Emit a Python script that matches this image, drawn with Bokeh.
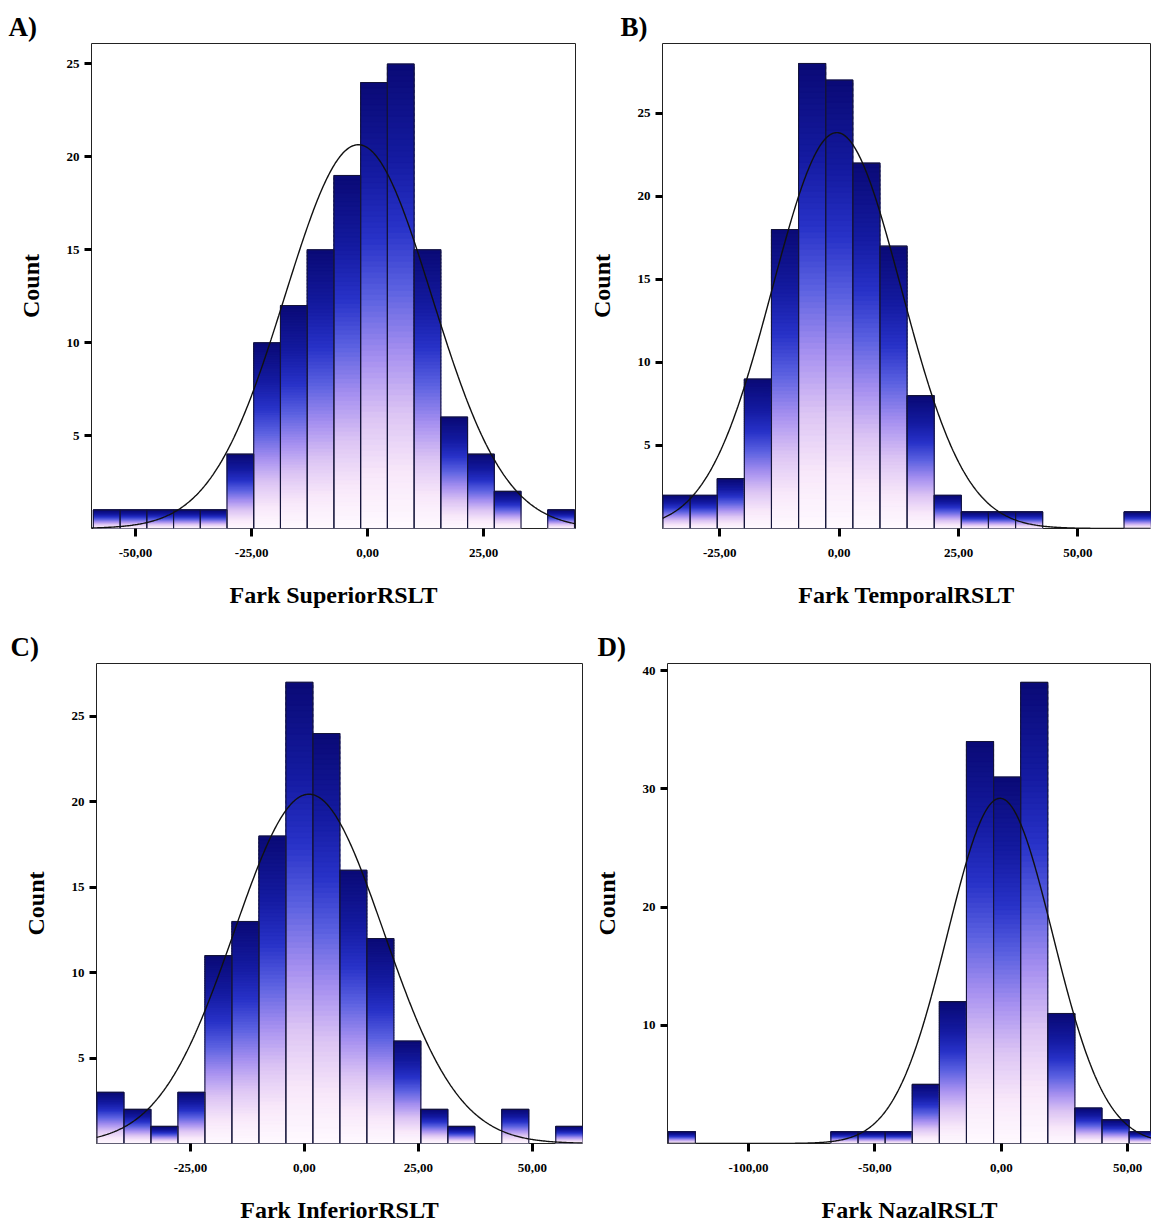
import numpy as np
from bokeh.plotting import figure
from bokeh.layouts import column, row
from bokeh.models import FixedTicker, CustomJSTickFormatter, Range1d
from bokeh.embed import file_html
from bokeh.resources import INLINE

# ---------------- data ----------------
# Panel A: Fark SuperiorRSLT
a_bin_start, a_bin_width = -59.1, 5.76
a_counts = [1, 1, 1, 1, 1, 4, 10, 12, 15, 19, 24, 25, 15, 6, 4, 2, 0, 1]
a_mean, a_sd = -2.0, 15.8
a_xticks = [-50, -25, 0, 25]
a_yticks = [5, 10, 15, 20, 25]

# Panel B: Fark TemporalRSLT
b_bin_start, b_bin_width = -36.9, 5.68
b_counts = [2, 2, 3, 9, 18, 28, 27, 22, 17, 8, 2, 1, 1, 1, 0, 0, 0, 1]
b_mean, b_sd = -0.5, 13.5
b_xticks = [-25, 0, 25, 50]
b_yticks = [5, 10, 15, 20, 25]

# Panel C: Fark InferiorRSLT
c_bin_start, c_bin_width = -45.5, 5.92
c_counts = [3, 2, 1, 3, 11, 13, 18, 27, 24, 16, 12, 6, 2, 1, 0, 2, 0, 1]
c_mean, c_sd = 1.0, 16.4
c_xticks = [-25, 0, 25, 50]
c_yticks = [5, 10, 15, 20, 25]

# Panel D: Fark NazalRSLT
d_bin_start, d_bin_width = -131.7, 10.72
d_counts = [1, 0, 0, 0, 0, 0, 1, 1, 1, 5, 12, 34, 31, 39, 11, 3, 2, 1]
d_mean, d_sd = -0.5, 20.8
d_xticks = [-100, -50, 0, 50]
d_yticks = [10, 20, 30, 40]

# ---------------- style ----------------
SERIF = "Liberation Serif"
STOPS = [(0.00, "#fffaff"), (0.12, "#f8e8fa"), (0.25, "#dcc4f4"),
         (0.38, "#a690f0"), (0.52, "#5a60e0"), (0.65, "#2832c8"),
         (0.80, "#141aa0"), (1.00, "#0a0a76")]


def _rgb(h):
    h = h.lstrip("#")
    return [int(h[i:i + 2], 16) for i in (0, 2, 4)]


def grad(t):
    for (t0, c0), (t1, c1) in zip(STOPS[:-1], STOPS[1:]):
        if t <= t1:
            f = (t - t0) / (t1 - t0) if t1 > t0 else 0
            a, b = _rgb(c0), _rgb(c1)
            return "#%02x%02x%02x" % tuple(int(round(a[i] + (b[i] - a[i]) * f)) for i in range(3))
    return STOPS[-1][1]


def panel(letter, letter_offset, xlabel, start, width, counts, mean, sd,
          xr, yr, xticks, yticks, W, H, bl, br, bt, bb):
    p = figure(width=W, height=H, x_range=Range1d(*xr), y_range=Range1d(*yr),
               output_backend="svg", toolbar_location=None, title=letter,
               min_border_left=bl, min_border_right=br,
               min_border_top=bt, min_border_bottom=bb)
    p.title.align = "left"
    p.title.offset = letter_offset
    p.title.text_font = SERIF
    p.title.text_font_size = "27px"
    p.title.text_font_style = "bold"
    p.title.text_color = "black"
    p.title.standoff = 3

    counts = np.array(counts, dtype=float)
    lefts = start + width * np.arange(len(counts))
    rights = lefts + width

    # gradient bars built from thin slices of each bar
    n = 80
    L, R, B, T, C = [], [], [], [], []
    for l, r, c in zip(lefts, rights, counts):
        if c <= 0:
            continue
        for j in range(n):
            L.append(l)
            R.append(r)
            B.append(c * j / n)
            T.append(min(c, c * (j + 1.5) / n))
            C.append(grad((j + 0.5) / n))
    p.quad(left=L, right=R, bottom=B, top=T, fill_color=C, line_color=C,
           line_width=0.8)

    mask = counts > 0
    p.quad(left=lefts[mask], right=rights[mask], bottom=0, top=counts[mask],
           fill_color=None, line_color="#14143a", line_width=1.1)

    # fitted normal curve
    xs = np.linspace(xr[0], xr[1], 500)
    ys = counts.sum() * width / (sd * np.sqrt(2 * np.pi)) * np.exp(-0.5 * ((xs - mean) / sd) ** 2)
    p.line(xs, ys, line_color="#111111", line_width=1.4)

    p.xgrid.visible = False
    p.ygrid.visible = False
    p.outline_line_color = "#222222"
    p.outline_line_width = 1
    p.background_fill_color = "white"
    p.border_fill_color = "white"

    for ax in (p.xaxis[0], p.yaxis[0]):
        ax.axis_line_color = None
        ax.minor_tick_line_color = None
        ax.major_tick_in = 0
        ax.major_tick_line_width = 3
        ax.major_tick_line_color = "black"
        ax.major_label_text_font = SERIF
        ax.major_label_text_font_style = "bold"
        ax.major_label_text_font_size = "13px"
        ax.major_label_text_color = "black"
        ax.axis_label_text_font = SERIF
        ax.axis_label_text_font_style = "bold"
        ax.axis_label_text_font_size = "24px"
        ax.axis_label_text_color = "black"

    p.xaxis.ticker = FixedTicker(ticks=xticks)
    p.xaxis.formatter = CustomJSTickFormatter(code="return tick.toFixed(2).replace('.', ',');")
    p.xaxis.major_tick_out = 8
    p.xaxis.major_label_standoff = 12
    p.xaxis.axis_label = xlabel
    p.xaxis.axis_label_standoff = 22

    p.yaxis.ticker = FixedTicker(ticks=yticks)
    p.yaxis.major_tick_out = 7
    p.yaxis.major_label_standoff = 5
    p.yaxis.axis_label = "Count"
    p.yaxis.axis_label_standoff = 20
    return p


pA = panel("A)", -83, "Fark SuperiorRSLT", a_bin_start, a_bin_width, a_counts, a_mean, a_sd,
           (-59.5, 44.8), (0, 26.1), a_xticks, a_yticks, 585, 615, 91, 10, 40, 86)
pB = panel("B)", -42, "Fark TemporalRSLT", b_bin_start, b_bin_width, b_counts, b_mean, b_sd,
           (-37.0, 65.2), (0, 29.2), b_xticks, b_yticks, 566, 615, 77, 1, 43, 87)
pC = panel("C)", -86, "Fark InferiorRSLT", c_bin_start, c_bin_width, c_counts, c_mean, c_sd,
           (-45.6, 61.0), (0, 28.1), c_xticks, c_yticks, 585, 615, 96, 3, 45, 87)
pD = panel("D)", -70, "Fark NazalRSLT", d_bin_start, d_bin_width, d_counts, d_mean, d_sd,
           (-132.0, 59.4), (0, 40.6), d_xticks, d_yticks, 566, 615, 82, 0, 48, 85)

layout = column(row(pA, pB), row(pC, pD))
open("out.html", "w").write(file_html(layout, INLINE))
